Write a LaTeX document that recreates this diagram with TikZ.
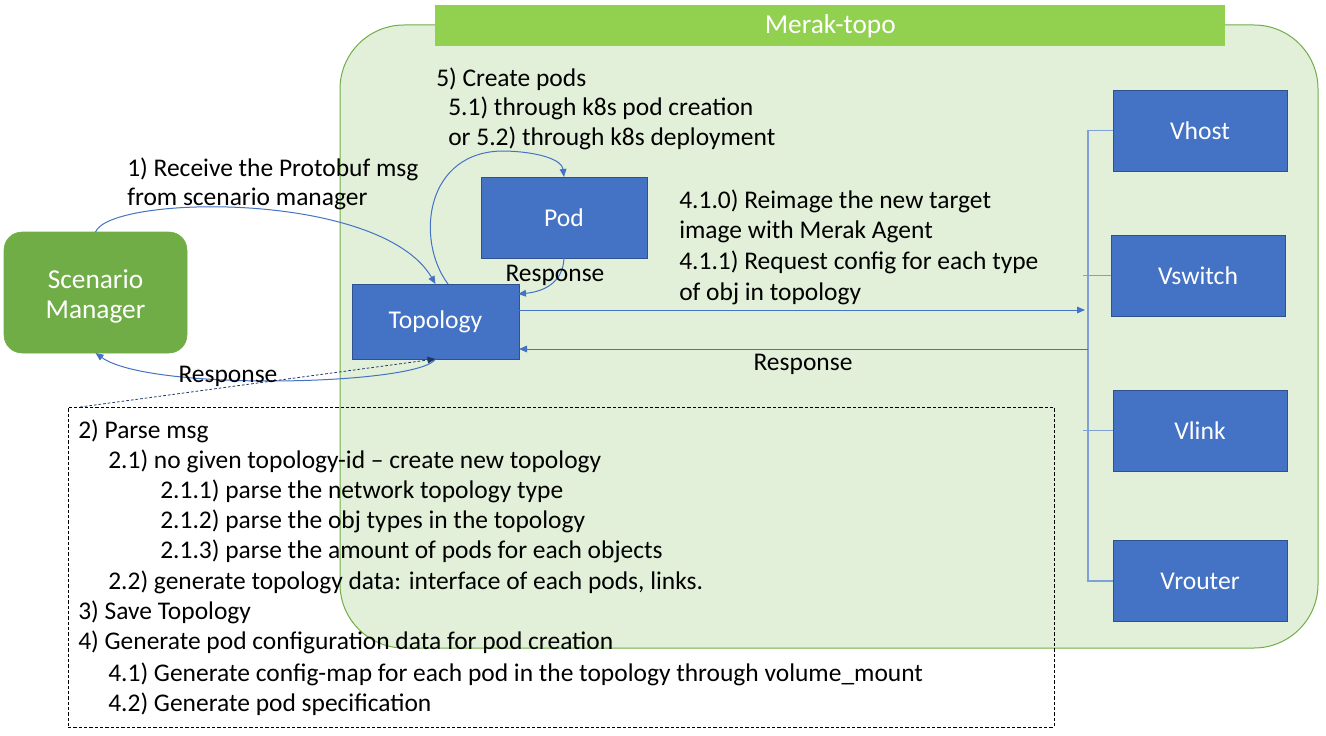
\documentclass[tikz,border=0pt]{standalone}
\usepackage{fontspec}
\setmainfont{Carlito}
\usetikzlibrary{arrows.meta}
\definecolor{bfill}{HTML}{4472C4}
\definecolor{bline}{HTML}{2F528F}
\definecolor{sgreen}{HTML}{70AD47}
\definecolor{tgreen}{HTML}{92D050}
\definecolor{cfill}{HTML}{E2F0D9}
\definecolor{navy}{HTML}{1F3864}
\definecolor{busc}{HTML}{7F9FD8}
\tikzset{
  bluebox/.style={draw=bline, fill=bfill, line width=0.75pt, text=white, inner sep=0pt, outer sep=0pt,
    minimum width=125.25pt, minimum height=56.25pt, font=\fontsize{19.2}{22}\selectfont},
  vbox/.style={bluebox, minimum width=130.5pt, minimum height=60.75pt},
  txt/.style={anchor=base west, inner sep=0pt, font=\fontsize{19.1}{22.5}\selectfont},
  ctxt/.style={anchor=base, inner sep=0pt, font=\fontsize{19.1}{22.5}\selectfont},
  conn/.style={draw=bfill, line width=0.75pt, -{Triangle[length=6pt,width=5pt]}},
  bus/.style={draw=busc, line width=0.9pt},
}
\begin{document}
\begin{tikzpicture}[x=0.75pt,y=-0.75pt]
\useasboundingbox (0,0) rectangle (1326,735);
% container
\node[draw=sgreen, fill=cfill, line width=0.75pt, rounded corners=48pt, anchor=north west,
  minimum width=733.5pt, minimum height=467.25pt, inner sep=0pt, outer sep=0pt] (merak) at (340,25) {};
\node[fill=tgreen, anchor=north west, minimum width=592.5pt, minimum height=30.75pt, inner sep=0pt,
  text=white, font=\fontsize{20.5}{22}\selectfont] (title) at (435,5) {Merak-topo};
% notes box
\node[draw=black, line width=0.6pt, dash pattern=on 2.5pt off 1.5pt, anchor=north west,
  minimum width=739.5pt, minimum height=240pt, inner sep=0pt, outer sep=0pt] (notes) at (68,407) {};
% boxes
\node[fill=sgreen, draw=sgreen, rounded corners=13.5pt, minimum width=137.25pt, minimum height=90.75pt,
  inner sep=0pt, outer sep=0pt] (sm) at (95.5,292.5) {};
\node[inner sep=0pt, text=white, align=center, font=\fontsize{20.5}{22}\selectfont] (smt) at ([yshift=-3pt]sm.center) {Scenario\\Manager};
\node[bluebox] (topo) at (435.5,321.5) {Topology};
\node[bluebox, minimum width=124.5pt, minimum height=60.75pt] (pod) at (564,217.5) {Pod};
\node[vbox] (vhost) at (1200,130.5) {Vhost};
\node[vbox] (vswitch) at (1198,275.5) {Vswitch};
\node[vbox] (vlink) at (1200,430.5) {Vlink};
\node[vbox] (vrouter) at (1200,581) {Vrouter};
% bus
\coordinate (bt) at (1088,130);
\draw[bus] (vhost.west) -- (vhost.west -| bt) -- (vrouter.west -| bt) -- (vrouter.west);
\draw[bus] (vswitch.west) -- ([xshift=-3.75pt]vswitch.west -| bt);
\draw[bus] (vlink.west) -- ([xshift=-3.75pt]vlink.west -| bt);
% request / response
\coordinate (rq) at (1085,310);
\coordinate (rs) at (1088,349);
\draw[conn] (rq -| topo.east) -- (rq);
\draw[conn] (rs) -- (rs -| topo.east);
% scenario manager arrows
\draw[conn] (sm.north) .. controls (110,195) and (380,190) .. (topo.north);
\draw[conn] (topo.south) .. controls (420,385) and (150,392) .. (sm.south);
% pod arrows
\coordinate (tp) at (448,284);
\coordinate (pk) at (505,151);
\draw[conn] (tp) .. controls (415,240) and (425,150) .. (pk) .. controls (540,152) and (562,160) .. (pod.north);
\coordinate (tr) at (518,294);
\draw[conn] (pod.south) .. controls (563,285) and (540,292) .. (tr);
% dotted arrow
\coordinate (ds) at (80,407);
\draw[navy, line width=0.6pt, dash pattern=on 2pt off 1.5pt, -{Triangle[length=6pt,width=5pt]}] (ds) -- (topo.south);
% labels
\node[txt] (l1a) at (127,176) {1) Receive the Protobuf msg};
\node[txt] (l1b) at (127,205) {from scenario manager};
\node[ctxt] (rsm) at (228,382) {Response};
\node[ctxt] (rpod) at (555,281) {Response};
\node[ctxt] (rright) at (803,370) {Response};
\node[txt] (c1) at (436,86) {5) Create pods};
\node[txt] (c2) at (448,115) {5.1) through k8s pod creation};
\node[txt] (c3) at (448,145) {or 5.2) through k8s deployment};
\node[txt] (r1) at (679,208) {4.1.0) Reimage the new target};
\node[txt] (r2) at (679,238) {image with Merak Agent};
\node[txt] (r3) at (679,269) {4.1.1) Request config for each type};
\node[txt] (r4) at (679,300) {of obj in topology};
\node[txt] (n1) at (78,438) {2) Parse msg};
\node[txt] (n2) at (108,468) {2.1) no given topology-id – create new topology};
\node[txt] (n3) at (160,498) {2.1.1) parse the network topology type};
\node[txt] (n4) at (160,528) {2.1.2) parse the obj types in the topology};
\node[txt] (n5) at (160,558) {2.1.3) parse the amount of pods for each objects};
\node[txt] (n6) at (108,589) {2.2) generate topology data: interface of each pods, links.};
\node[txt] (n7) at (78,619) {3) Save Topology};
\node[txt] (n8) at (78,649) {4) Generate pod configuration data for pod creation};
\node[txt] (n9) at (108,681) {4.1) Generate config-map for each pod in the topology through volume\_mount};
\node[txt] (n10) at (108,711) {4.2) Generate pod specification};
\end{tikzpicture}
\end{document}
